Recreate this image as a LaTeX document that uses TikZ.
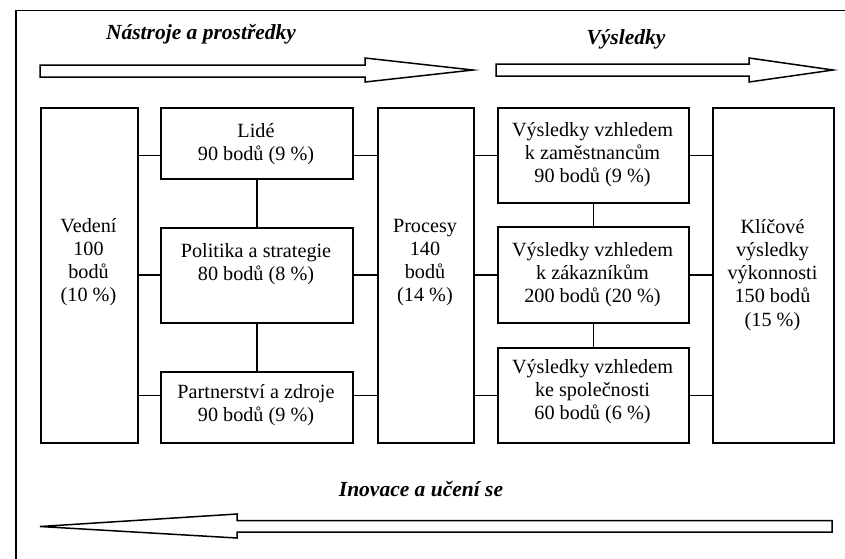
\documentclass[tikz,border=0pt]{standalone}
\usepackage{fontspec}
\setmainfont{Liberation Serif}
\begin{document}
\begin{tikzpicture}[x=1pt,y=-1pt,line width=1.5pt,
  box/.style={draw,inner sep=0pt,anchor=north west},
  txt/.style={inner sep=0pt,anchor=base,font=\fontsize{20.2}{23.3}\selectfont},
  ttl/.style={inner sep=0pt,anchor=base,font=\fontsize{21.5}{25}\selectfont\bfseries\itshape},
  bigarrow/.style={draw,fill=white,line join=miter}]
\useasboundingbox (0,0) rectangle (845,558);

% outer frame (only its top and left sides fall on the page)
\draw (16,570) -- (16,10.5) -- (860,10.5);

% headings
\node[ttl] (tnastroje) at (201,39) {Nástroje a prostředky};
\node[ttl] (tvysledky) at (626,44) {Výsledky};
\node[ttl] (tinovace) at (421,496) {Inovace a učení se};

% block arrows
\draw[bigarrow] (40,65) -- (365,65) -- (365,58) -- (473,70) -- (365,82) -- (365,77) -- (40,77) -- cycle;
\draw[bigarrow] (496,64) -- (749,64) -- (749,58) -- (833,70) -- (749,82) -- (749,76) -- (496,76) -- cycle;
\draw[bigarrow] (832,520.5) -- (237,520.5) -- (237,514) -- (40,526.5) -- (237,538) -- (237,532) -- (832,532) -- cycle;

% boxes
\node[box,minimum width=97pt,minimum height=335pt] (ved) at (40,107) {};
\node[box,minimum width=192pt,minimum height=71pt] (lid) at (160,107) {};
\node[box,minimum width=192pt,minimum height=95pt] (pol) at (160,227) {};
\node[box,minimum width=192pt,minimum height=71pt] (par) at (160,371) {};
\node[box,minimum width=96pt,minimum height=335pt] (pro) at (377,107) {};
\node[box,minimum width=191pt,minimum height=95pt] (zam) at (497,107) {};
\node[box,minimum width=191pt,minimum height=96pt] (zak) at (497,226) {};
\node[box,minimum width=191pt,minimum height=95pt] (spo) at (497,347) {};
\node[box,minimum width=121pt,minimum height=335pt] (kli) at (712,107) {};

% box texts
\node[txt] (tved) at (88.5,232) {\begin{tabular}[t]{@{}c@{}}Vedení\\100\\bodů\\(10 \%)\end{tabular}};
\node[txt] (tlid) at (256,137) {\begin{tabular}[t]{@{}c@{}}Lidé\\90 bodů (9 \%)\end{tabular}};
\node[txt] (tpol) at (256,257) {\begin{tabular}[t]{@{}c@{}}Politika a strategie\\80 bodů (8 \%)\end{tabular}};
\node[txt] (tpar) at (256,398) {\begin{tabular}[t]{@{}c@{}}Partnerství a zdroje\\90 bodů (9 \%)\end{tabular}};
\node[txt] (tpro) at (425,232) {\begin{tabular}[t]{@{}c@{}}Procesy\\140\\bodů\\(14 \%)\end{tabular}};
\node[txt] (tzam) at (592.5,136) {\begin{tabular}[t]{@{}c@{}}Výsledky vzhledem\\k zaměstnancům\\90 bodů (9 \%)\end{tabular}};
\node[txt] (tzak) at (592.5,256) {\begin{tabular}[t]{@{}c@{}}Výsledky vzhledem\\k zákazníkům\\200 bodů (20 \%)\end{tabular}};
\node[txt] (tspo) at (592.5,373) {\begin{tabular}[t]{@{}c@{}}Výsledky vzhledem\\ke společnosti\\60 bodů (6 \%)\end{tabular}};
\node[txt] (tkli) at (772.5,233) {\begin{tabular}[t]{@{}c@{}}Klíčové\\výsledky\\výkonnosti\\150 bodů\\(15 \%)\end{tabular}};

% horizontal connectors
\draw (ved.east |- zam.west) -- (lid.west |- zam.west);
\draw (ved.east |- zak.west) -- (pol.west |- zak.west);
\draw (ved.east |- spo.west) -- (par.west |- spo.west);
\draw (lid.east |- zam.west) -- (pro.west |- zam.west);
\draw (pol.east |- zak.west) -- (pro.west |- zak.west);
\draw (par.east |- spo.west) -- (pro.west |- spo.west);
\draw (pro.east |- zam.west) -- (zam.west);
\draw (pro.east |- zak.west) -- (zak.west);
\draw (pro.east |- spo.west) -- (spo.west);
\draw (zam.east) -- (kli.west |- zam.east);
\draw (zak.east) -- (kli.west |- zak.east);
\draw (spo.east) -- (kli.west |- spo.east);

% vertical connectors
\draw (lid.south) -- (pol.north);
\draw (pol.south) -- (par.north);
\draw (zam.south) -- (zak.north);
\draw (zak.south) -- (spo.north);
\end{tikzpicture}
\end{document}
